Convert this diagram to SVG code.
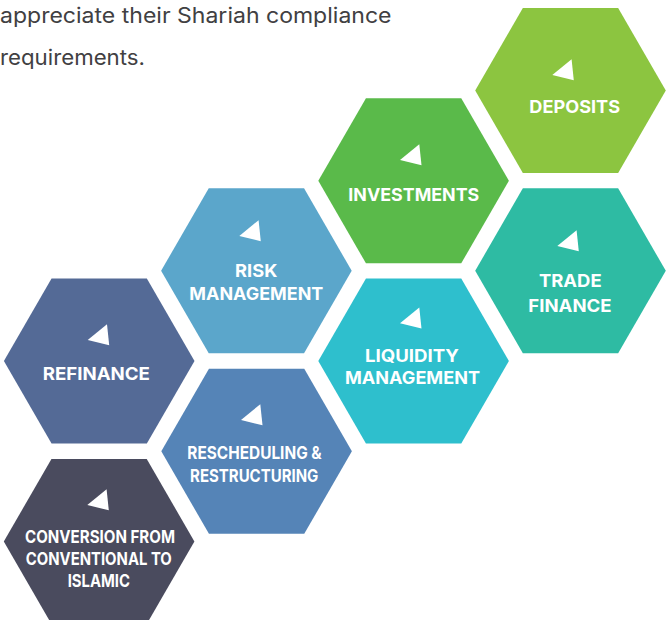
<svg xmlns="http://www.w3.org/2000/svg" width="671" height="620" viewBox="0 0 671 620">
  <style>
    .hdr { font-family: Inter, "Open Sans", "Liberation Sans", sans-serif; font-size: 21px; fill: #414042; }
    .lbl { font-family: Inter, "Liberation Sans", sans-serif; font-weight: 700; font-size: 17.5px; fill: #ffffff; text-anchor: middle; }
    .ico { fill: #ffffff; }
  </style>
  <defs>
    <polygon id="hex" points="-95.3,0 -47.65,-82.5 47.65,-82.5 95.3,0 47.65,82.5 -47.65,82.5"/>
    <polygon id="tri" points="0,0 19.3,-15.8 21.5,5.3"/>
  </defs>
  <rect width="671" height="620" fill="#ffffff"/>

  <g id="header">
    <text class="hdr" x="0" y="23.3" textLength="391.5" lengthAdjust="spacingAndGlyphs">appreciate their Shariah compliance</text>
    <text class="hdr" x="0" y="64.8" textLength="145" lengthAdjust="spacingAndGlyphs">requirements.</text>
  </g>

  <g id="connectors"/>

  <g id="deposits">
    <use href="#hex" x="570.5" y="90.5" fill="#8cc540"/>
    <use href="#tri" x="552.3" y="75" class="ico"/>
    <text class="lbl" x="574.7" y="113.3" textLength="90.7" lengthAdjust="spacingAndGlyphs">DEPOSITS</text>
  </g>

  <g id="investments">
    <use href="#hex" x="413.6" y="180.8" fill="#5aba4a"/>
    <use href="#tri" x="400" y="160" class="ico"/>
    <text class="lbl" x="413.8" y="201" textLength="131" lengthAdjust="spacingAndGlyphs">INVESTMENTS</text>
  </g>

  <g id="risk-management">
    <use href="#hex" x="256.4" y="270.8" fill="#5ba6cb"/>
    <use href="#tri" x="239.3" y="236" class="ico"/>
    <text class="lbl" x="256.2" y="276.7" textLength="42.3" lengthAdjust="spacingAndGlyphs">RISK</text>
    <text class="lbl" x="256.3" y="300" textLength="134" lengthAdjust="spacingAndGlyphs">MANAGEMENT</text>
  </g>

  <g id="trade-finance">
    <use href="#hex" x="570.5" y="270.8" fill="#2ebba3"/>
    <use href="#tri" x="557.3" y="246" class="ico"/>
    <text class="lbl" x="570.3" y="287.3" textLength="62.7" lengthAdjust="spacingAndGlyphs">TRADE</text>
    <text class="lbl" x="570" y="311.7" textLength="83.3" lengthAdjust="spacingAndGlyphs">FINANCE</text>
  </g>

  <g id="refinance">
    <use href="#hex" x="99.2" y="360.9" fill="#546a96"/>
    <use href="#tri" x="87.7" y="340" class="ico"/>
    <text class="lbl" x="96.3" y="380" textLength="107.3" lengthAdjust="spacingAndGlyphs">REFINANCE</text>
  </g>

  <g id="liquidity-management">
    <use href="#hex" x="413.6" y="361.1" fill="#2ebfcd"/>
    <use href="#tri" x="400" y="323.3" class="ico"/>
    <text class="lbl" x="412" y="361.7" textLength="94" lengthAdjust="spacingAndGlyphs">LIQUIDITY</text>
    <text class="lbl" x="412.5" y="384" textLength="135" lengthAdjust="spacingAndGlyphs">MANAGEMENT</text>
  </g>

  <g id="rescheduling-restructuring">
    <use href="#hex" x="256.6" y="451.3" fill="#5584b7"/>
    <use href="#tri" x="241" y="420" class="ico"/>
    <text class="lbl" x="254.5" y="459.3" textLength="134.4" lengthAdjust="spacingAndGlyphs">RESCHEDULING &amp;</text>
    <text class="lbl" x="254.2" y="481.7" textLength="128.3" lengthAdjust="spacingAndGlyphs">RESTRUCTURING</text>
  </g>

  <g id="conversion">
    <use href="#hex" x="99.1" y="541.5" fill="#4a4b5e"/>
    <use href="#tri" x="87.3" y="505" class="ico"/>
    <text class="lbl" x="100" y="542.7" textLength="150" lengthAdjust="spacingAndGlyphs">CONVERSION FROM</text>
    <text class="lbl" x="98.8" y="565" textLength="146" lengthAdjust="spacingAndGlyphs">CONVENTIONAL TO</text>
    <text class="lbl" x="98.8" y="586.7" textLength="62.3" lengthAdjust="spacingAndGlyphs">ISLAMIC</text>
  </g>
</svg>
